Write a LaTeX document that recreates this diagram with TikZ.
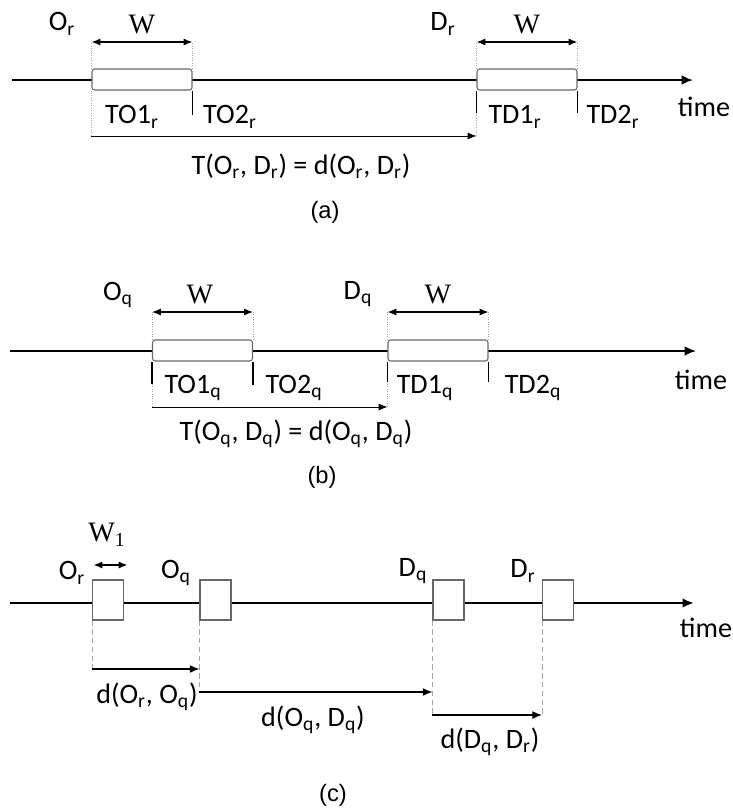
\documentclass[tikz,border=0pt]{standalone}
\usepackage{fontspec}
\setmainfont{Carlito}
\newfontfamily\wfont{Liberation Serif}
\newfontfamily\capfont{Liberation Sans}
\usetikzlibrary{arrows.meta,positioning}
\definecolor{framegray}{RGB}{105,105,105}
\definecolor{guidegray}{RGB}{165,165,165}

\begin{document}
\begin{tikzpicture}[
  x=0.02cm, y=-0.02cm,
  font=\fontsize{16}{19}\selectfont,
  timeline/.style={line width=1.1pt, -{Latex[length=6.5pt,width=5.5pt]}},
  window/.style={
    rectangle,
    draw=framegray,
    fill=white,
    rounded corners=1.5pt,
    line width=0.6pt,
    minimum width=2cm,
    minimum height=0.42cm,
    inner sep=0pt
  },
  slot/.style={
    rectangle,
    draw=framegray,
    fill=white,
    line width=0.6pt,
    minimum width=0.62cm,
    minimum height=0.8cm,
    inner sep=0pt
  },
  guide/.style={draw=guidegray, densely dotted, line width=0.4pt},
  dguide/.style={draw=guidegray, densely dashed, line width=0.4pt},
  tick/.style={line width=0.7pt},
  span/.style={-{Latex[length=5pt,width=4pt]}, line width=0.5pt},
  dspan/.style={-{Latex[length=5.5pt,width=4.5pt]}, line width=0.7pt},
  wspan/.style={{Latex[length=5pt,width=4pt]}-{Latex[length=5pt,width=4pt]}, line width=0.8pt},
  lbl/.style={inner sep=0pt},
  wlbl/.style={inner sep=0pt, font=\wfont\fontsize{16}{19}\selectfont},
  panelcap/.style={inner sep=0pt, font=\capfont\fontsize{13.5}{16}\selectfont}
]
\useasboundingbox (0,0) rectangle (733,809);

% (a)
\coordinate (a0) at (12,80);
\coordinate (a1) at (693,80);
\coordinate (wa) at (0,42);
\coordinate (ta) at (0,136);
\draw[timeline] (a0) -- (a1);
\node[window] (oa) at (142,79.5) {};
\node[window] (da) at (527,79.5) {};

\draw[guide] (oa.north west) -- (oa.north west |- wa);
\draw[guide] (oa.north east) -- (oa.north east |- wa);
\draw[guide] (da.north west) -- (da.north west |- wa);
\draw[guide] (da.north east) -- (da.north east |- wa);
\draw[wspan] (oa.north west |- wa) -- (oa.north east |- wa);
\draw[wspan] (da.north west |- wa) -- (da.north east |- wa);

\draw[guide] (oa.south west) -- (oa.south west |- ta);
\draw[guide] (da.south west) -- (da.south west |- ta);
\draw[tick] (oa.south east) -- ++(0,24);
\draw[tick] (da.south west) -- ++(0,22);
\draw[tick] (da.south east) -- ++(0,22);
\draw[span] (oa.south west |- ta) -- (da.south west |- ta);

\node[lbl] (ora) at (62,24) {O\textsubscript{r}};
\node[lbl] (dra) at (443,24) {D\textsubscript{r}};
\node[wlbl] (woa) at (142,25) {W};
\node[wlbl] (wda) at (527,25) {W};
\node[lbl] (to1a) at (132,117) {TO1\textsubscript{r}};
\node[lbl] (to2a) at (230,117) {TO2\textsubscript{r}};
\node[lbl] (td1a) at (515,117) {TD1\textsubscript{r}};
\node[lbl] (td2a) at (613,117) {TD2\textsubscript{r}};
\node[lbl] (timea) at (704,107) {time};
\node[lbl] (tta) at (301,166) {T(O\textsubscript{r}, D\textsubscript{r}) = d(O\textsubscript{r}, D\textsubscript{r})};
\node[panelcap] (capa) at (325,212) {(a)};

% (b)
\coordinate (b0) at (10,351);
\coordinate (b1) at (696,351);
\coordinate (wb) at (0,312);
\coordinate (tb) at (0,407);
\draw[timeline] (b0) -- (b1);
\node[window] (ob) at (202.5,350.5) {};
\node[window] (db) at (438,350.5) {};

\draw[guide] (ob.north west) -- (ob.north west |- wb);
\draw[guide] (ob.north east) -- (ob.north east |- wb);
\draw[guide] (db.north west) -- (db.north west |- wb);
\draw[guide] (db.north east) -- (db.north east |- wb);
\draw[wspan] (ob.north west |- wb) -- (ob.north east |- wb);
\draw[wspan] (db.north west |- wb) -- (db.north east |- wb);

\draw[guide] (ob.south west) -- (ob.south west |- tb);
\draw[guide] (db.south west) -- (db.south west |- tb);
\draw[tick] (ob.south west) -- ++(0,22);
\draw[tick] (ob.south east) -- ++(0,23);
\draw[tick] (db.south west) -- ++(0,20);
\draw[tick] (db.south east) -- ++(0,20);
\draw[span] (ob.south west |- tb) -- (db.south west |- tb);

\node[lbl] (oqb) at (118,295) {O\textsubscript{q}};
\node[lbl] (dqb) at (358,294) {D\textsubscript{q}};
\node[wlbl] (wob) at (200,295) {W};
\node[wlbl] (wdb) at (438,295) {W};
\node[lbl] (to1b) at (193,388) {TO1\textsubscript{q}};
\node[lbl] (to2b) at (294,388) {TO2\textsubscript{q}};
\node[lbl] (td1b) at (425,388) {TD1\textsubscript{q}};
\node[lbl] (td2b) at (533,388) {TD2\textsubscript{q}};
\node[lbl] (timeb) at (701,380) {time};
\node[lbl] (ttb) at (296,434) {T(O\textsubscript{q}, D\textsubscript{q}) = d(O\textsubscript{q}, D\textsubscript{q})};
\node[panelcap] (capb) at (322,477) {(b)};

% (c)
\coordinate (c0) at (10,603);
\coordinate (c1) at (694,603);
\coordinate (wc) at (0,565);
\coordinate (l1) at (0,669);
\coordinate (l2) at (0,692);
\coordinate (l3) at (0,715);
\draw[timeline, line width=1.6pt] (c0) -- (c1);
\node[slot] (sor) at (108,600) {};
\node[slot] (soq) at (215.5,600) {};
\node[slot] (sdq) at (448.5,600) {};
\node[slot] (sdr) at (558,600) {};

\draw[wspan] ([xshift=0.03cm]sor.north west |- wc) -- ([xshift=0.07cm]sor.north east |- wc);

\draw[dguide] (sor.south west) -- (sor.south west |- l1);
\draw[dguide] (soq.south west) -- (soq.south west |- l2);
\draw[dguide] (sdq.south west) -- (sdq.south west |- l3);
\draw[dguide] (sdr.south west) -- (sdr.south west |- l3);
\draw[dspan] (sor.south west |- l1) -- (soq.south west |- l1);
\draw[dspan] (soq.south west |- l2) -- (sdq.south west |- l2);
\draw[dspan] (sdq.south west |- l3) -- (sdr.south west |- l3);

\node[wlbl] (w1c) at (107,535) {W\textsubscript{1}};
\node[lbl] (orc) at (72,573) {O\textsubscript{r}};
\node[lbl] (oqc) at (176,573) {O\textsubscript{q}};
\node[lbl] (dqc) at (413,571) {D\textsubscript{q}};
\node[lbl] (drc) at (523,571) {D\textsubscript{r}};
\node[lbl] (timec) at (706,628) {time};
\node[lbl] (dorq) at (147,697) {d(O\textsubscript{r}, O\textsubscript{q})};
\node[lbl] (doqd) at (313,720) {d(O\textsubscript{q}, D\textsubscript{q})};
\node[lbl] (ddqr) at (490,742) {d(D\textsubscript{q}, D\textsubscript{r})};
\node[panelcap] (capc) at (333,795) {(c)};

\end{tikzpicture}
\end{document}
